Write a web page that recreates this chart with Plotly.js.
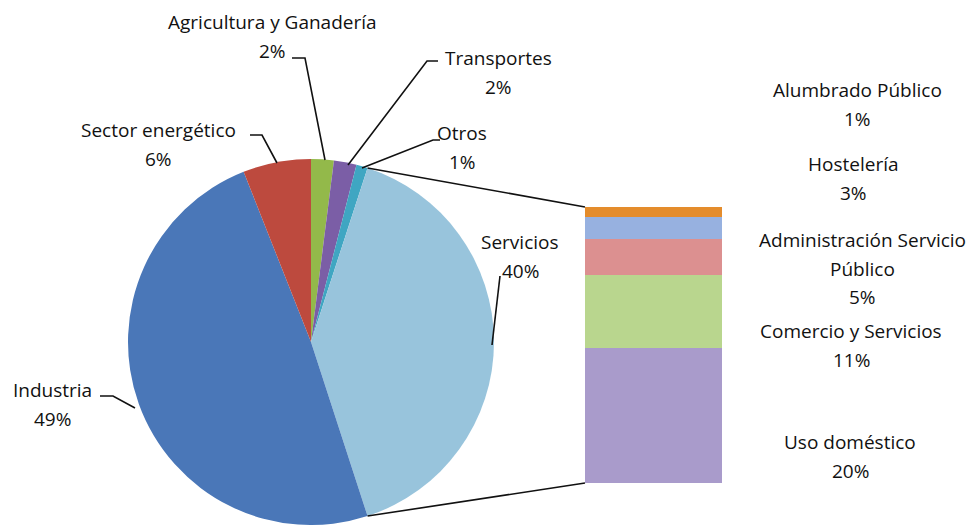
<!DOCTYPE html>
<html><head><meta charset="utf-8">
<script src="https://cdn.plot.ly/plotly-3.0.1.min.js"></script>
<style>html,body{margin:0;padding:0;background:#fff}#chart{width:975px;height:525px}</style>
</head><body><div id="chart"></div>
<script>
// ---- data ----
const pieLabels = ["Agricultura y Ganadería", "Transportes", "Otros", "Servicios", "Industria", "Sector energético"];
const pieValues = [2, 2, 1, 40, 49, 6];
const pieColors = ["#93b94a", "#7b5ea6", "#3fa6c2", "#98c4dc", "#4a77b8", "#bd4a3e"];

const barLabels = ["Uso doméstico", "Comercio y Servicios", "Administración Servicio<br>Público", "Hostelería", "Alumbrado Público"];
const barValues = [19.5, 10.6, 5.2, 3.3, 1.4];
const barPct = [20, 11, 5, 3, 1];
const barColors = ["#a99bcb", "#b9d68e", "#dc9090", "#97b1e0", "#e48c2c"];

// ---- layout geometry (pixels) ----
const W = 975, H = 525;
const PX = x => x / W, PY = y => 1 - y / H;
const pieBox = {x0: 128, x1: 494, y0: 159, y1: 525};
const barBox = {x0: 585, x1: 722, y0: 207, y1: 483};

const traces = [{
  type: "pie", labels: pieLabels, values: pieValues, sort: false,
  direction: "clockwise", rotation: 0,
  marker: {colors: pieColors, line: {width: 0}},
  textinfo: "none", hoverinfo: "label+percent", showlegend: false,
  domain: {x: [PX(pieBox.x0), PX(pieBox.x1)], y: [PY(pieBox.y1), PY(pieBox.y0)]}
}];
barLabels.forEach((lab, i) => {
  traces.push({
    type: "bar", x: [0], y: [barValues[i]], name: lab.replace("<br>", " "),
    marker: {color: barColors[i], line: {width: 0}}, width: 1,
    xaxis: "x", yaxis: "y", showlegend: false, hoverinfo: "name"
  });
});

const font = {family: "Open Sans, Noto Sans, sans-serif", size: 19, color: "#111"};
const annotations = [];
function addLabel(text, pct, x, y, gap) {
  const lines = text.split("<br>");
  lines.push(pct + "%");
  lines.forEach((t, k) => annotations.push({
    xref: "paper", yref: "paper", x: PX(x), y: PY(y + k * gap), text: t,
    showarrow: false, xanchor: "center", yanchor: "middle", font: font
  }));
}
// label positions (pixels, centre of first line)
const piePos = [[272, 22], [498, 58], [462, 133], [520, 242], [52, 390], [158, 130]];
pieLabels.forEach((l, i) => addLabel(l, pieValues[i], piePos[i][0], piePos[i][1], 29));
const barPos = [[850, 442], [851, 331], [862, 240], [853, 164], [857, 90]];
barLabels.forEach((l, i) => addLabel(l, barPct[i], barPos[i][0], barPos[i][1], 28.5));

// leader lines (pixels)
const leaders = [
  [[292, 58], [305, 58], [325, 160]],
  [[438, 61], [427, 61], [348, 165]],
  [[440, 140], [433, 140], [362, 168]],
  [[250, 135], [262, 135], [277, 163]],
  [[100, 396], [113, 396], [135, 408]],
  [[500, 276], [492, 345]]
];
const shapes = leaders.map(pts => ({
  type: "path", xref: "paper", yref: "paper",
  path: pts.map((p, k) => (k ? "L" : "M") + PX(p[0]) + "," + PY(p[1])).join(" "),
  line: {color: "#111", width: 1.6}
}));

// connector lines from the Servicios slice edges to the bar
const cx = (pieBox.x0 + pieBox.x1) / 2, cy = (pieBox.y0 + pieBox.y1) / 2, r = (pieBox.x1 - pieBox.x0) / 2;
const total = pieValues.reduce((a, b) => a + b, 0);
const sIdx = pieLabels.indexOf("Servicios");
const startFrac = pieValues.slice(0, sIdx).reduce((a, b) => a + b, 0) / total;
const endFrac = startFrac + pieValues[sIdx] / total;
const edge = f => [cx + r * Math.sin(2 * Math.PI * f), cy - r * Math.cos(2 * Math.PI * f)];
const pA = edge(startFrac), pB = edge(endFrac);
shapes.push({type: "line", xref: "paper", yref: "paper", x0: PX(pA[0]), y0: PY(pA[1]), x1: PX(barBox.x0), y1: PY(barBox.y0), line: {color: "#111", width: 1.6}});
shapes.push({type: "line", xref: "paper", yref: "paper", x0: PX(pB[0]), y0: PY(pB[1]), x1: PX(barBox.x0), y1: PY(barBox.y1), line: {color: "#111", width: 1.6}});

const barTotal = barValues.reduce((a, b) => a + b, 0);
const layout = {
  width: W, height: H, margin: {l: 0, r: 0, t: 0, b: 0},
  paper_bgcolor: "#fff", plot_bgcolor: "rgba(0,0,0,0)",
  barmode: "stack", bargap: 0,
  xaxis: {domain: [PX(barBox.x0), PX(barBox.x1)], range: [-0.5, 0.5], visible: false, fixedrange: true},
  yaxis: {domain: [PY(barBox.y1), PY(barBox.y0)], range: [0, barTotal], visible: false, fixedrange: true},
  annotations: annotations, shapes: shapes
};
Plotly.newPlot("chart", traces, layout, {displayModeBar: false, staticPlot: true});
</script></body></html>
